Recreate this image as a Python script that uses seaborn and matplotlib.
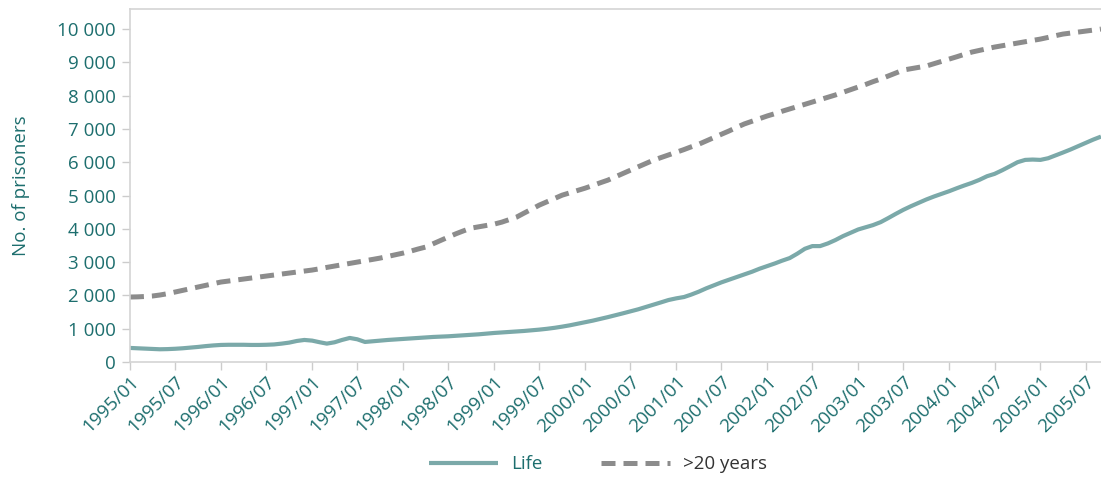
import matplotlib
matplotlib.use("Agg")
import matplotlib.pyplot as plt
import matplotlib.dates as mdates
import matplotlib.ticker as mticker
import numpy as np
import pandas as pd
import seaborn as sns

# monthly values, 1995/01 .. 2005/09
months = pd.date_range("1995-01-01", periods=129, freq="MS")

life = [
    420, 410, 400, 390, 380, 385, 395, 410, 430, 450, 475, 495,
    510, 515, 515, 515, 510, 510, 515, 525, 550, 580, 630, 660,
    640, 590, 550, 590, 660, 720, 680, 600, 620, 640, 660, 675,
    690, 705, 720, 735, 750, 760, 770, 785, 800, 815, 830, 850,
    870, 885, 900, 915, 930, 950, 970, 995, 1025, 1060, 1100, 1145,
    1190, 1240, 1290, 1345, 1400, 1460, 1520, 1580, 1650, 1720, 1790, 1860,
    1910, 1950, 2020, 2110, 2210, 2300, 2390, 2470, 2550, 2630, 2710, 2800,
    2880, 2960, 3040, 3120, 3250, 3400, 3480, 3480, 3560, 3660, 3780, 3880,
    3980, 4050, 4110, 4200, 4320, 4450, 4570, 4680, 4780, 4880, 4970, 5050,
    5130, 5220, 5300, 5380, 5470, 5580, 5650, 5760, 5880, 6000, 6070, 6080,
    6070, 6120, 6200, 6290, 6380, 6480, 6580, 6680, 6770,
]

over20 = [
    1950, 1955, 1965, 1980, 2010, 2050, 2100, 2150, 2200, 2250, 2300, 2350,
    2400, 2430, 2460, 2490, 2520, 2550, 2580, 2610, 2640, 2670, 2700, 2730,
    2760, 2800, 2840, 2880, 2920, 2960, 3000, 3040, 3080, 3120, 3170, 3220,
    3270, 3330, 3390, 3450, 3550, 3650, 3750, 3850, 3940, 4020, 4060, 4100,
    4140, 4200, 4270, 4350, 4470, 4590, 4710, 4810, 4910, 5010, 5080, 5150,
    5220, 5300, 5380, 5460, 5560, 5660, 5760, 5860, 5960, 6060, 6140, 6220,
    6300, 6380, 6460, 6540, 6640, 6740, 6840, 6940, 7050, 7150, 7230, 7310,
    7390, 7460, 7530, 7600, 7670, 7740, 7810, 7880, 7950, 8020, 8100, 8180,
    8260, 8340, 8420, 8500, 8590, 8680, 8770, 8810, 8850, 8890, 8960, 9030,
    9100, 9170, 9240, 9310, 9360, 9410, 9460, 9500, 9540, 9580, 9620, 9660,
    9700, 9750, 9800, 9850, 9880, 9910, 9940, 9970, 10000,
]

series_names = ["Life", ">20 years"]
colors = {"Life": "#7ba9a9", ">20 years": "#8c8c8c"}
teal = "#1d6e6e"

df = pd.DataFrame({
    "month": list(months) * 2,
    "value": life + over20,
    "series": ["Life"] * len(life) + [">20 years"] * len(over20),
})

sns.set_style("white")
plt.rcParams["font.family"] = ["Open Sans", "DejaVu Sans"]

fig = plt.figure(figsize=(11.01, 4.80), dpi=100)
ax = fig.add_axes([0.118, 0.246, 0.882, 0.735])

sns.lineplot(data=df, x="month", y="value", hue="series", style="series",
             hue_order=series_names, style_order=series_names,
             palette=colors, dashes={"Life": "", ">20 years": (2.8, 1.6)},
             legend=False, ax=ax)
for line, lw in zip(ax.lines, [3.0, 3.6]):
    line.set_linewidth(lw)
    line.set_solid_capstyle("butt")
    line.set_dash_capstyle("butt")

ax.set_ylim(0, 10600)
ax.set_xlim(months[0], months[-1])
ax.yaxis.set_major_locator(mticker.MultipleLocator(1000))
ax.yaxis.set_major_formatter(mticker.FuncFormatter(lambda v, p: f"{int(v):,}".replace(",", " ")))
ax.xaxis.set_major_locator(mdates.MonthLocator(bymonth=[1, 7]))
ax.xaxis.set_major_formatter(mdates.DateFormatter("%Y/%m"))

ax.tick_params(axis="both", which="major", length=6, width=1, color="#cccccc",
               colors=teal, direction="out", bottom=True, left=True)
ax.tick_params(axis="y", labelsize=13.5, pad=4)
ax.tick_params(axis="x", labelsize=13.5, pad=2)
for lab in ax.get_xticklabels():
    lab.set_rotation(45)
    lab.set_ha("right")
    lab.set_rotation_mode("anchor")

for side in ["top", "left", "bottom"]:
    ax.spines[side].set_color("#d4d4d4")
    ax.spines[side].set_linewidth(1.2)
ax.spines["right"].set_visible(False)

ax.set_xlabel("")
ax.set_ylabel("No. of prisoners", color=teal, fontsize=13.5, labelpad=20)

leg = fig.legend(handles=ax.lines[:2], labels=series_names, loc="center",
                 bbox_to_anchor=(0.543, 0.033), ncol=2, frameon=False,
                 fontsize=13.5, handlelength=3.7, columnspacing=3.1, handletextpad=0.7)
leg.get_texts()[0].set_color(teal)
leg.get_texts()[1].set_color("#333333")

fig.savefig("out.png", dpi=100)
